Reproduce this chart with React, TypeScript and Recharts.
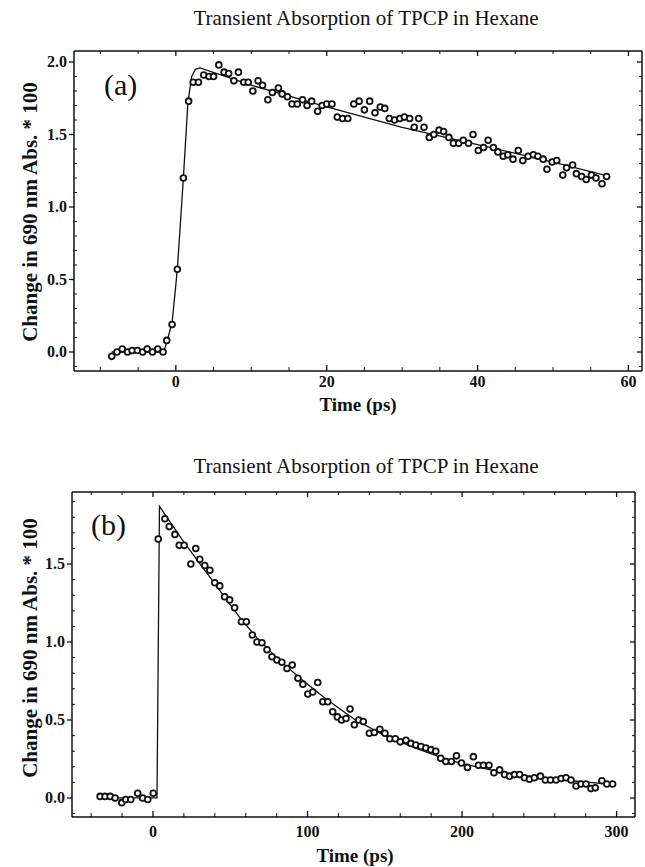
import { ComposedChart, Line, Scatter, XAxis, YAxis } from 'recharts'

// panel (a): first 60 ps
const A_TIME = [
  -8.5, -7.8, -7.1, -6.4, -5.8, -5.1, -4.4, -3.8, -3.1, -2.4, -1.7, -1.2, -0.5, 0.2, 1.0,
  1.7, 2.3, 3.0, 3.7, 4.4, 5.0, 5.7, 6.4, 7.0, 7.7, 8.3, 9.0, 9.6, 10.2, 10.9,
  11.5, 12.2, 12.8, 13.6, 14.1, 14.8, 15.4, 16.1, 16.8, 17.4, 18.0, 18.8, 19.4, 20.0, 20.7,
  21.4, 22.1, 22.8, 23.6, 24.3, 25.0, 25.7, 26.4, 27.1, 27.7, 28.3, 29.0, 29.7, 30.3, 31.0,
  31.6, 32.2, 32.9, 33.6, 34.2, 34.9, 35.5, 36.2, 36.8, 37.5, 38.1, 38.8, 39.4, 40.1, 40.8,
  41.4, 42.1, 42.7, 43.4, 44.0, 44.7, 45.4, 46.0, 46.7, 47.4, 48.0, 48.7, 49.2, 49.9, 50.5,
  51.3, 51.8, 52.6, 53.1, 53.8, 54.4, 55.1, 55.7, 56.5, 57.1,
]
const A_ABS = [
  -0.03, 0.0, 0.02, 0.0, 0.01, 0.01, 0.0, 0.02, 0.0, 0.02, 0.0, 0.08, 0.19, 0.57, 1.2,
  1.73, 1.86, 1.86, 1.91, 1.9, 1.9, 1.98, 1.93, 1.92, 1.87, 1.93, 1.86, 1.86, 1.8, 1.87,
  1.84, 1.74, 1.79, 1.82, 1.78, 1.76, 1.71, 1.71, 1.74, 1.7, 1.73, 1.66, 1.7, 1.71, 1.71,
  1.62, 1.61, 1.61, 1.71, 1.73, 1.67, 1.73, 1.65, 1.69, 1.68, 1.61, 1.6, 1.61, 1.62, 1.61,
  1.55, 1.61, 1.55, 1.48, 1.5, 1.53, 1.52, 1.48, 1.44, 1.44, 1.46, 1.44, 1.5, 1.39, 1.41,
  1.46, 1.41, 1.38, 1.35, 1.36, 1.33, 1.39, 1.32, 1.35, 1.36, 1.35, 1.33, 1.26, 1.31, 1.32,
  1.22, 1.27, 1.29, 1.23, 1.21, 1.19, 1.22, 1.2, 1.16, 1.21,
]
const A_FIT_TIME = [-8.5, -1.6, -1.2, -0.5, 0.2, 1.0, 1.6, 2.1, 2.6, 3.2, 10, 20, 30, 40, 50, 57.6]
const A_FIT_ABS = [0, 0, 0.07, 0.2, 0.57, 1.2, 1.72, 1.9, 1.95, 1.96, 1.84, 1.69, 1.55, 1.43, 1.31, 1.21]
const A_X_TICKS = [-10, -5, 0, 5, 10, 15, 20, 25, 30, 35, 40, 45, 50, 55, 60]
const A_X_LABELS = [0, 20, 40, 60]
const A_Y_TICKS = [-0.1, 0, 0.1, 0.2, 0.3, 0.4, 0.5, 0.6, 0.7, 0.8, 0.9, 1, 1.1, 1.2, 1.3, 1.4, 1.5, 1.6, 1.7, 1.8, 1.9, 2]
const A_Y_LABELS = [0, 0.5, 1, 1.5, 2]

// panel (b): 300 ps
const B_TIME = [
  -34.2, -31.0, -27.7, -24.5, -20.2, -17.6, -14.4, -9.9, -6.7, -3.4, 0.2, 3.4,
  7.7, 10.5, 14.2, 17.0, 20.2, 24.5, 27.7, 30.3, 33.5, 36.8, 40.0, 43.2, 46.4, 49.6, 52.8,
  57.2, 60.4, 64.3, 67.3, 70.5, 73.8, 77.0, 80.2, 83.4, 86.7, 90.1, 93.8, 97.0, 100.2,
  103.4, 106.6, 109.9, 113.1, 116.3, 119.3, 122.0, 124.9, 127.5, 130.3, 133.1, 136.1, 140.0,
  143.2, 146.8, 150.1, 153.3, 156.8, 160.0, 163.7, 166.9, 170.1, 173.4, 176.6, 179.8, 183.0,
  186.2, 189.5, 193.1, 196.4, 199.6, 203.5, 207.3, 210.6, 213.8, 217.4, 220.6, 224.3, 227.5,
  230.7, 233.9, 237.2, 240.4, 243.6, 246.8, 250.7, 253.9, 257.2, 260.8, 264.1, 267.3, 270.5,
  273.8, 277.0, 280.2, 283.4, 286.2, 290.5, 293.7, 297.4,
]
const B_ABS = [
  0.01, 0.01, 0.01, 0.0, -0.03, -0.01, -0.01, 0.03, 0.0, -0.01, 0.03, 1.66,
  1.79, 1.74, 1.69, 1.62, 1.62, 1.5, 1.6, 1.53, 1.49, 1.46, 1.38, 1.36, 1.29, 1.27, 1.22,
  1.13, 1.13, 1.045, 1.0, 0.995, 0.95, 0.906, 0.885, 0.87, 0.83, 0.853, 0.767, 0.73, 0.667,
  0.68, 0.74, 0.617, 0.617, 0.553, 0.52, 0.5, 0.51, 0.57, 0.47, 0.5, 0.49, 0.415,
  0.42, 0.44, 0.415, 0.38, 0.38, 0.36, 0.37, 0.35, 0.34, 0.33, 0.32, 0.31, 0.3,
  0.254, 0.234, 0.234, 0.27, 0.224, 0.196, 0.265, 0.21, 0.21, 0.21, 0.162, 0.18, 0.15,
  0.14, 0.15, 0.15, 0.13, 0.12, 0.13, 0.14, 0.115, 0.115, 0.115, 0.125, 0.13, 0.115,
  0.077, 0.09, 0.09, 0.06, 0.065, 0.11, 0.09, 0.09,
]
const B_FIT_TIME = [-34.2, 2.6, 4.2, 20, 35, 56, 67, 80, 95, 110, 121, 131, 150, 170, 185, 200, 228, 260, 299]
const B_FIT_ABS = [0, 0, 1.87, 1.64, 1.44, 1.16, 1.03, 0.9, 0.77, 0.65, 0.57, 0.5, 0.4, 0.32, 0.265, 0.22, 0.16, 0.12, 0.085]
const B_X_TICKS = [-40, -20, 0, 20, 40, 60, 80, 100, 120, 140, 160, 180, 200, 220, 240, 260, 280, 300]
const B_X_LABELS = [0, 100, 200, 300]
const B_Y_TICKS = [-0.1, 0, 0.1, 0.2, 0.3, 0.4, 0.5, 0.6, 0.7, 0.8, 0.9, 1, 1.1, 1.2, 1.3, 1.4, 1.5, 1.6, 1.7, 1.8, 1.9]
const B_Y_LABELS = [0, 0.5, 1, 1.5]

const TITLE = 'Transient Absorption of TPCP in Hexane'
const Y_TITLE = 'Change in 690 nm Abs. * 100'
const X_TITLE = 'Time (ps)'

const INK = '#111'
const FONT = '"Liberation Serif", "Times New Roman", serif'

const zip = (ts: number[], vs: number[]) => ts.map((t, i) => ({ t, v: vs[i] }))
const isMajor = (labels: number[], v: number) => labels.some((l) => Math.abs(l - v) < 1e-6)

type Side = 'left' | 'right' | 'top' | 'bottom'

function tickFor(side: Side, labels: number[], fmt?: (v: number) => string, labelGap = 20) {
  return (p: any) => {
    const { x, y, payload } = p
    const major = isMajor(labels, payload.value)
    const txt = { fontFamily: FONT, fontSize: 16, fontWeight: 700, fill: INK }
    if (side === 'left') {
      return (
        <g>
          {major
            ? <line x1={x - 5} x2={x} y1={y} y2={y} stroke={INK} strokeWidth={1.3} />
            : <line x1={x} x2={x + 3} y1={y} y2={y} stroke={INK} strokeWidth={1} />}
          {major && fmt && (
            <text x={x - 7} y={y + 5} textAnchor="end" style={txt}>{fmt(payload.value)}</text>
          )}
        </g>
      )
    }
    if (side === 'bottom') {
      return (
        <g>
          <line x1={x} x2={x} y1={y} y2={y - (major ? 6 : 4)} stroke={INK} strokeWidth={major ? 1.3 : 1} />
          {major && fmt && (
            <text x={x} y={y + labelGap} textAnchor="middle" style={txt}>{fmt(payload.value)}</text>
          )}
        </g>
      )
    }
    if (side === 'top') {
      return <line x1={x} x2={x} y1={y} y2={y + (major ? 5 : 3)} stroke={INK} strokeWidth={major ? 1.3 : 1} />
    }
    return <line x1={x} x2={x - (major ? 5 : 3)} y1={y} y2={y} stroke={INK} strokeWidth={major ? 1.3 : 1} />
  }
}

const Dot = (p: any) => (
  <circle cx={p.cx} cy={p.cy} r={2.9} fill="#fff" stroke={INK} strokeWidth={1.8} />
)

type PanelProps = {
  top: number
  height: number
  margin: { top: number; right: number; bottom: number; left: number }
  yWidth: number
  xHeight: number
  labelGap: number
  obs: { t: number; v: number }[]
  fit: { t: number; v: number }[]
  xDomain: [number, number]
  yDomain: [number, number]
  xTicks: number[]
  xLabels: number[]
  yTicks: number[]
  yLabels: number[]
}

function Panel(props: PanelProps) {
  const axisLine = { stroke: INK, strokeWidth: 1.5 }
  return (
    <div style={{ position: 'absolute', left: 0, top: props.top }}>
      <ComposedChart width={645} height={props.height} margin={props.margin}>
        <XAxis
          xAxisId={0} dataKey="t" type="number" domain={props.xDomain} allowDataOverflow
          ticks={props.xTicks} interval={0} tickSize={0} tickMargin={0} tickLine={false}
          axisLine={axisLine} height={props.xHeight}
          tick={tickFor('bottom', props.xLabels, (v) => String(v), props.labelGap)}
        />
        <XAxis
          xAxisId="top" orientation="top" dataKey="t" type="number" domain={props.xDomain} allowDataOverflow
          ticks={props.xTicks} interval={0} tickSize={0} tickMargin={0} tickLine={false}
          axisLine={axisLine} height={1}
          tick={tickFor('top', props.xLabels)}
        />
        <YAxis
          yAxisId={0} type="number" domain={props.yDomain} allowDataOverflow
          ticks={props.yTicks} interval={0} tickSize={0} tickMargin={0} tickLine={false}
          axisLine={axisLine} width={props.yWidth}
          tick={tickFor('left', props.yLabels, (v) => v.toFixed(1))}
        />
        <YAxis
          yAxisId="right" orientation="right" type="number" domain={props.yDomain} allowDataOverflow
          ticks={props.yTicks} interval={0} tickSize={0} tickMargin={0} tickLine={false}
          axisLine={axisLine} width={1}
          tick={tickFor('right', props.yLabels)}
        />
        <Line
          xAxisId={0} yAxisId={0} data={props.fit} dataKey="v" type="linear"
          stroke={INK} strokeWidth={1.3} dot={false} activeDot={false} isAnimationActive={false}
        />
        <Scatter
          xAxisId={0} yAxisId={0} data={props.obs} dataKey="v" shape={Dot} isAnimationActive={false}
        />
      </ComposedChart>
    </div>
  )
}

export default function App() {
  const titleStyle = { fontFamily: FONT, fontSize: 21, fill: INK }
  const axisTitleStyle = { fontFamily: FONT, fontSize: 21, fontWeight: 700, fill: INK }
  const tagStyle = { fontFamily: FONT, fontSize: 30, fill: INK }
  return (
    <div style={{ position: 'absolute', left: 0, top: 0, width: 645, height: 867, background: '#fff' }}>
      <Panel
        top={0} height={420} margin={{ top: 50, right: 2, bottom: 0, left: 0 }}
        yWidth={74} xHeight={49} labelGap={16}
        obs={zip(A_TIME, A_ABS)} fit={zip(A_FIT_TIME, A_FIT_ABS)}
        xDomain={[-13.5, 61.8]} yDomain={[-0.131, 2.076]}
        xTicks={A_X_TICKS} xLabels={A_X_LABELS} yTicks={A_Y_TICKS} yLabels={A_Y_LABELS}
      />
      <Panel
        top={440} height={427} margin={{ top: 51, right: 9, bottom: 0, left: 0 }}
        yWidth={72} xHeight={50} labelGap={20}
        obs={zip(B_TIME, B_ABS)} fit={zip(B_FIT_TIME, B_FIT_ABS)}
        xDomain={[-52.4, 311.9]} yDomain={[-0.122, 1.962]}
        xTicks={B_X_TICKS} xLabels={B_X_LABELS} yTicks={B_Y_TICKS} yLabels={B_Y_LABELS}
      />
      <svg width={645} height={867} style={{ position: 'absolute', left: 0, top: 0, pointerEvents: 'none' }}>
        <text x={366} y={25} textAnchor="middle" style={titleStyle}>{TITLE}</text>
        <text x={366} y={473} textAnchor="middle" style={titleStyle}>{TITLE}</text>
        <text transform="translate(37,212) rotate(-90)" textAnchor="middle" style={axisTitleStyle}>{Y_TITLE}</text>
        <text transform="translate(37,648) rotate(-90)" textAnchor="middle" style={axisTitleStyle}>{Y_TITLE}</text>
        <text x={358} y={411} textAnchor="middle" style={{ ...axisTitleStyle, fontSize: 19 }}>{X_TITLE}</text>
        <text x={355} y={862} textAnchor="middle" style={{ ...axisTitleStyle, fontSize: 19 }}>{X_TITLE}</text>
        <text x={104} y={95} style={tagStyle}>(a)</text>
        <text x={91} y={535} style={tagStyle}>(b)</text>
      </svg>
    </div>
  )
}
